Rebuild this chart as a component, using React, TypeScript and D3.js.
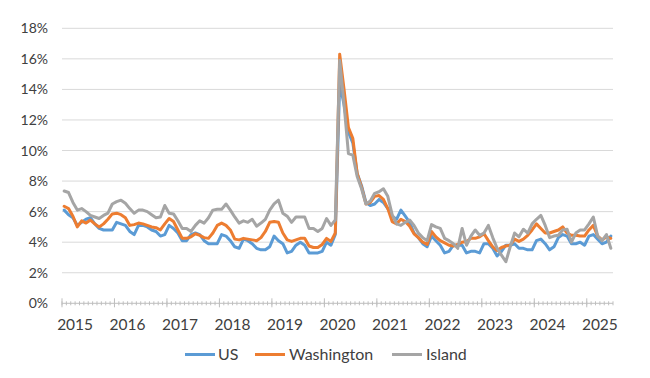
import React from "react";
import * as d3 from "d3";

const years = ["2015", "2016", "2017", "2018", "2019", "2020", "2021", "2022", "2023", "2024", "2025"];
const yTicks = [0, 2, 4, 6, 8, 10, 12, 14, 16, 18];
const seriesNames = ["US", "Washington", "Island"];

// Monthly unemployment rate (%), Jan 2015 – Jun 2025
const us = [
  6.1, 5.8, 5.6, 5.1, 5.3, 5.5, 5.6, 5.2, 4.9, 4.8, 4.8, 4.8,
  5.3, 5.2, 5.1, 4.7, 4.5, 5.1, 5.1, 5.0, 4.8, 4.7, 4.4, 4.5,
  5.1, 4.9, 4.6, 4.1, 4.1, 4.5, 4.6, 4.5, 4.1, 3.9, 3.9, 3.9,
  4.5, 4.4, 4.1, 3.7, 3.6, 4.2, 4.1, 3.9, 3.6, 3.5, 3.5, 3.7,
  4.4, 4.1, 3.9, 3.3, 3.4, 3.8, 4.0, 3.8, 3.3, 3.3, 3.3, 3.4,
  4.0, 3.8, 4.5, 14.4, 13.0, 11.2, 10.5, 8.5, 7.7, 6.6, 6.4, 6.5,
  6.8, 6.6, 6.2, 5.7, 5.5, 6.1, 5.7, 5.3, 4.6, 4.3, 3.9, 3.7,
  4.4, 4.1, 3.8, 3.3, 3.4, 3.8, 3.8, 3.8, 3.3, 3.4, 3.4, 3.3,
  3.9, 3.9, 3.6, 3.1, 3.4, 3.8, 3.8, 3.9, 3.6, 3.6, 3.5, 3.5,
  4.1, 4.2, 3.9, 3.5, 3.7, 4.3, 4.5, 4.4, 3.9, 3.9, 4.0, 3.8,
  4.4, 4.5, 4.2, 3.9, 4.0, 4.4,
];
const washington = [
  6.35, 6.2, 5.7, 5.0, 5.4, 5.25, 5.45, 5.2, 5.0, 5.2, 5.5, 5.85,
  5.9, 5.8, 5.6, 5.1, 5.15, 5.25, 5.2, 5.1, 5.0, 4.95, 4.8, 5.2,
  5.55, 5.35, 4.8, 4.25, 4.25, 4.35, 4.55, 4.45, 4.3, 4.25, 4.6, 5.1,
  5.25, 5.1, 4.8, 4.2, 4.15, 4.25, 4.2, 4.15, 4.1, 4.3, 4.7, 5.3,
  5.35, 5.3, 4.6, 4.15, 4.05, 4.15, 4.25, 4.25, 3.75, 3.65, 3.65, 3.85,
  4.25, 4.05, 4.6, 16.3, 14.0, 11.5, 10.8, 8.5, 7.6, 6.5, 6.6, 7.0,
  7.05, 6.8, 6.2, 5.35, 5.2, 5.5, 5.35, 5.05, 4.55, 4.3, 4.0, 3.85,
  4.7, 4.35, 4.1, 3.95, 3.8, 3.75, 3.85, 4.0, 4.05, 4.25, 4.25, 4.35,
  4.55, 4.1, 3.7, 3.45, 3.65, 3.75, 3.8, 4.2, 4.05, 4.2, 4.45, 4.8,
  5.2, 4.9, 4.6, 4.6, 4.7, 4.8, 5.0, 4.6, 4.45, 4.45, 4.4, 4.4,
  4.8, 5.1, 4.4, 4.15, 4.35, 4.25,
];
const island = [
  7.35, 7.25, 6.6, 6.1, 6.2, 6.0, 5.75, 5.65, 5.55, 5.75, 5.9, 6.5,
  6.65, 6.75, 6.55, 6.2, 5.9, 6.1, 6.1, 6.0, 5.8, 5.6, 5.65, 6.4,
  5.9, 5.85, 5.4, 4.9, 4.9, 4.7, 5.1, 5.4, 5.25, 5.6, 6.1, 6.15,
  6.15, 6.5, 6.1, 5.65, 5.25, 5.4, 5.3, 5.5, 5.05, 5.25, 5.5, 6.1,
  6.5, 6.75, 5.9, 5.7, 5.3, 5.65, 5.65, 5.65, 4.9, 4.9, 4.7, 4.9,
  5.55, 5.1, 5.45, 15.9, 13.0, 9.8, 9.7, 8.3, 7.5, 6.5, 6.7, 7.2,
  7.3, 7.5, 7.0, 5.8, 5.2, 5.1, 5.3, 5.45, 5.1, 4.6, 4.3, 4.1,
  5.15, 5.0, 4.9, 4.25, 4.1, 3.9, 3.6, 4.9, 3.8, 4.4, 4.8, 4.45,
  4.6, 5.1, 4.3, 3.6, 3.15, 2.72, 3.7, 4.6, 4.35, 4.85, 4.6, 5.2,
  5.5, 5.75, 5.1, 4.3, 4.4, 4.45, 4.8, 4.85, 4.0, 4.6, 4.8, 4.8,
  5.2, 5.65, 4.4, 4.1, 4.5, 3.6,
];

const colors = ["#5B9BD5", "#ED7D31", "#A5A5A5"];
const seriesData = [us, washington, island];

export default function App() {
  const W = 650, H = 378;
  const left = 62, right = 613, top = 28.3, bottom = 303.3;
  const n = us.length;
  const x = d3.scaleLinear().domain([0, n]).range([left, right]);
  const y = d3.scaleLinear().domain([0, 18]).range([bottom, top]);
  const line = d3.line<number>().x((_, i) => x(i + 0.5)).y((d) => y(d)).curve(d3.curveLinear);
  const font = "Lato, 'Open Sans', sans-serif";
  const textColor = "#404040";

  const minorTicks = d3.range(0, n + 1);
  const majorTicks = d3.range(0, n + 1, 12);

  const legendItems = [
    { name: seriesNames[0], lx: 185, tx: 218 },
    { name: seriesNames[1], lx: 255, tx: 289 },
    { name: seriesNames[2], lx: 392, tx: 426 },
  ];

  return (
    <svg width={W} height={H} style={{ position: "absolute", left: 0, top: 0, background: "#fff" }}>
      {yTicks.map((t) => (
        <g key={t}>
          {t > 0 && <line x1={left} x2={right} y1={y(t)} y2={y(t)} stroke="#D9D9D9" strokeWidth={1} />}
          <text x={48} y={y(t) + 5} textAnchor="end" fontFamily={font} fontSize={14} fill={textColor}>
            {t}%
          </text>
        </g>
      ))}
      <line x1={left} x2={right} y1={bottom} y2={bottom} stroke="#BFBFBF" strokeWidth={1} />
      {minorTicks.map((m) => (
        <line key={"m" + m} x1={x(m)} x2={x(m)} y1={bottom - 2} y2={bottom + 2} stroke="#BFBFBF" strokeWidth={1} />
      ))}
      {majorTicks.map((m) => (
        <line key={"M" + m} x1={x(m)} x2={x(m)} y1={bottom - 5} y2={bottom + 4} stroke="#BFBFBF" strokeWidth={1} />
      ))}
      {years.map((yr, k) => (
        <text key={yr} x={x(k * 12 + 3)} y={329.5} textAnchor="middle" fontFamily={font} fontSize={15.5} fill={textColor}>
          {yr}
        </text>
      ))}
      {seriesData.map((s, k) => (
        <path key={k} d={line(s) || ""} fill="none" stroke={colors[k]} strokeWidth={3} strokeLinejoin="round" strokeLinecap="round" />
      ))}
      {legendItems.map((it, k) => (
        <g key={it.name}>
          <line x1={it.lx} x2={it.lx + 30} y1={354.5} y2={354.5} stroke={colors[k]} strokeWidth={3} />
          <text x={it.tx} y={360} fontFamily={font} fontSize={16} fill={textColor}>
            {it.name}
          </text>
        </g>
      ))}
    </svg>
  );
}
